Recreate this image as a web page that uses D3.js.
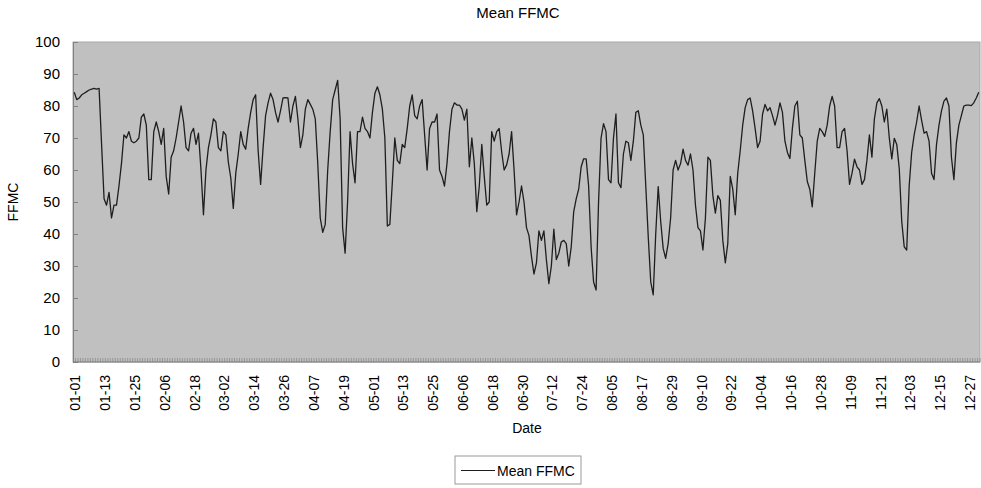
<!DOCTYPE html>
<html>
<head>
<meta charset="utf-8">
<script src="https://cdn.jsdelivr.net/npm/d3@7"></script>
<style>
    body { margin: 0; background: #ffffff; }
    svg { display: block; font-family: "Liberation Sans", Arial, sans-serif; }
</style>
</head>
<body>
<div id="data-viz"></div>
<script>

// daily mean FFMC
const jan = [84.3, 82, 82.5, 83.5, 84, 84.5, 85, 85.3, 85.5, 85.3, 85.5, 68, 51, 49, 53, 45, 49, 49, 55, 62, 71, 70, 72, 69, 68.5, 69, 70, 76.5, 77.5, 74, 57]
const feb = [57, 72, 75, 72, 68, 73, 58, 52.5, 64, 66, 70, 75, 80, 75, 67, 66, 71.5, 73, 68, 71.5, 60, 46, 60, 67, 71, 76, 75, 67]
const mar = [66, 72, 71, 62.5, 57.5, 48, 59, 65, 72, 68, 66.5, 73, 78, 82, 83.5, 66, 55.5, 67, 77, 81, 84, 82, 78, 75, 78.5, 82.5, 82.6, 82.5, 75, 80, 83]
const apr = [76, 67, 71, 79, 82, 80.5, 79, 76, 62, 45, 40.5, 43, 60, 72, 82, 85, 88, 76, 42, 34, 50, 72, 62, 56, 72, 72, 76.5, 73, 72, 70]
const may = [78, 84, 86, 83.5, 79, 70, 42.5, 43, 56, 70, 63, 62, 68, 67, 73, 80, 83.5, 77, 76, 80, 82, 71, 60, 73, 75, 75, 77.5, 60, 58, 55, 62]
const jun = [72, 79, 81, 80.3, 80.3, 79, 75.6, 79, 61, 70, 62, 47, 55, 68, 58, 49, 50, 72, 69, 72, 73, 65.7, 60, 61.6, 65, 72, 60, 46, 50, 55]
const jul = [50, 42, 39.5, 33, 27.5, 31, 41, 38, 41, 32, 24.5, 30, 41.5, 32, 34, 37.5, 38, 37, 30, 36, 47, 51, 54, 61, 63.5, 63.5, 55, 36, 25, 22.5, 50]
const aug = [70, 74.5, 72, 57, 56, 70, 77.5, 56, 54.5, 65, 69, 68.5, 63, 69, 78, 78.5, 74, 71, 55, 39, 25, 21, 40, 54.8, 44, 35.5, 32.4, 37, 45, 60, 63]
const sep = [60, 62, 66.5, 63, 61.5, 65, 60, 49, 42, 41, 35, 45, 64, 63, 52, 46.5, 52, 50.5, 38, 31, 37, 58, 54, 46, 59, 66, 74, 79.5, 82, 82.5]
const oct = [78.5, 73, 67, 69, 77.5, 80.5, 78.5, 79.5, 77, 74, 77, 81, 78, 69, 65.5, 63.6, 73, 80, 81.5, 71, 70, 63, 56.4, 54, 48.5, 59, 69, 73, 72, 70.5, 74]
const nov = [80, 83, 80, 67, 67, 72, 73, 66, 55.5, 59, 63.4, 61, 60, 55.5, 57, 63, 71, 64, 76, 81, 82.3, 80, 75, 79, 70, 63.5, 69.9, 68, 60.5, 44]
const dec = [36, 35, 55, 65.5, 71, 75, 80, 75.5, 71.5, 72, 69, 59, 57, 68, 74, 78.5, 81.5, 82.5, 80, 64, 57, 68.5, 74, 77, 80, 80.3, 80.3, 80.1, 81, 82.5, 84.3]

const tickLabels = ["01-01", "01-13", "01-25", "02-06", "02-18", "03-02", "03-14", "03-26", "04-07", "04-19",
                    "05-01", "05-13", "05-25", "06-06", "06-18", "06-30", "07-12", "07-24", "08-05", "08-17",
                    "08-29", "09-10", "09-22", "10-04", "10-16", "10-28", "11-09", "11-21", "12-03", "12-15", "12-27"]

const yTicks = [0, 10, 20, 30, 40, 50, 60, 70, 80, 90, 100]

const seriesName = "Mean FFMC"

class FfmcChart {

    constructor(values) {

        var self = this

        this.width = 981

        this.height = 488

        this.margin = { top: 42, right: 1, bottom: 126, left: 73 }

        var fmt = d3.timeFormat("%m-%d")

        // non leap year, one category per day
        this.dates = d3.timeDays(new Date(2001, 0, 1), new Date(2002, 0, 1)).map(fmt)

        this.data = this.dates.map((d, i) => ({ date: d, value: values[i] }))

        this.create()

    }

    create() {

        var self = this

        var m = self.margin

        self.svg = d3.select("#data-viz").append("svg")
                        .attr("width", self.width)
                        .attr("height", self.height)

        self.x = d3.scaleBand()
                    .domain(self.dates)
                    .range([m.left, self.width - m.right])

        self.y = d3.scaleLinear()
                    .domain([0, 100])
                    .range([self.height - m.bottom, m.top])

        var half = self.x.bandwidth() / 2

        // plot area
        self.svg.append("rect")
            .attr("x", m.left)
            .attr("y", m.top)
            .attr("width", self.width - m.left - m.right)
            .attr("height", self.y(0) - m.top)
            .attr("fill", "#c0c0c0")
            .attr("stroke", "#a8a8a8")

        // small day ticks along the bottom
        var dayAxis = self.svg.append("g")
            .attr("transform", `translate(${half},${self.y(0)})`)
            .call(d3.axisBottom(self.x).tickSize(-4).tickFormat("").tickSizeOuter(0))

        dayAxis.selectAll(".tick line").attr("stroke", "#7a7a7a").attr("stroke-width", 0.6)

        dayAxis.select(".domain").remove()

        var xAxis = self.svg.append("g")
            .attr("transform", `translate(${half},${self.y(0)})`)
            .call(d3.axisBottom(self.x).tickValues(tickLabels).tickSize(0).tickSizeOuter(0))

        xAxis.select(".domain").remove()

        xAxis.selectAll("text")
            .attr("transform", "rotate(-90)")
            .attr("text-anchor", "end")
            .attr("x", -13)
            .attr("y", 0)
            .attr("dy", "0.35em")
            .attr("font-size", 14)
            .attr("fill", "#000")

        self.svg.append("line")
            .attr("x1", m.left)
            .attr("x2", self.width - m.right)
            .attr("y1", self.y(0))
            .attr("y2", self.y(0))
            .attr("stroke", "#808080")

        var yAxis = self.svg.append("g")
            .attr("transform", `translate(${m.left},0)`)
            .call(d3.axisRight(self.y).tickValues(yTicks).tickSize(5).tickSizeOuter(0).tickFormat(d3.format("d")))

        yAxis.select(".domain").attr("stroke", "#808080")

        yAxis.selectAll(".tick line").attr("stroke", "#808080")

        yAxis.selectAll("text")
            .attr("x", -13)
            .attr("text-anchor", "end")
            .attr("font-size", 15)
            .attr("fill", "#000")

        // the series
        var line = d3.line()
            .x(d => self.x(d.date) + half)
            .y(d => self.y(d.value))

        self.svg.append("path")
            .datum(self.data)
            .attr("d", line)
            .attr("fill", "none")
            .attr("stroke", "#1e1e1e")
            .attr("stroke-width", 1.3)
            .attr("stroke-linejoin", "round")

        // titles
        self.svg.append("text")
            .attr("x", 518)
            .attr("y", 18)
            .attr("text-anchor", "middle")
            .attr("font-size", 15)
            .text(seriesName)

        self.svg.append("text")
            .attr("transform", `translate(18,${(m.top + self.y(0)) / 2}) rotate(-90)`)
            .attr("text-anchor", "middle")
            .attr("font-size", 14)
            .text("FFMC")

        self.svg.append("text")
            .attr("x", 527)
            .attr("y", 433)
            .attr("text-anchor", "middle")
            .attr("font-size", 14)
            .text("Date")

        self.legend()

    }

    legend() {

        var self = this

        var g = self.svg.append("g").attr("transform", "translate(455,456)")

        g.append("rect")
            .attr("width", 126)
            .attr("height", 28)
            .attr("fill", "#fff")
            .attr("stroke", "#9a9a9a")

        g.append("line")
            .attr("x1", 6)
            .attr("x2", 40)
            .attr("y1", 14.5)
            .attr("y2", 14.5)
            .attr("stroke", "#1e1e1e")
            .attr("stroke-width", 1.2)

        g.append("text")
            .attr("x", 42)
            .attr("y", 19.5)
            .attr("font-size", 14)
            .text(seriesName)

    }

}

new FfmcChart([].concat(jan, feb, mar, apr, may, jun, jul, aug, sep, oct, nov, dec))

</script>
</body>
</html>
